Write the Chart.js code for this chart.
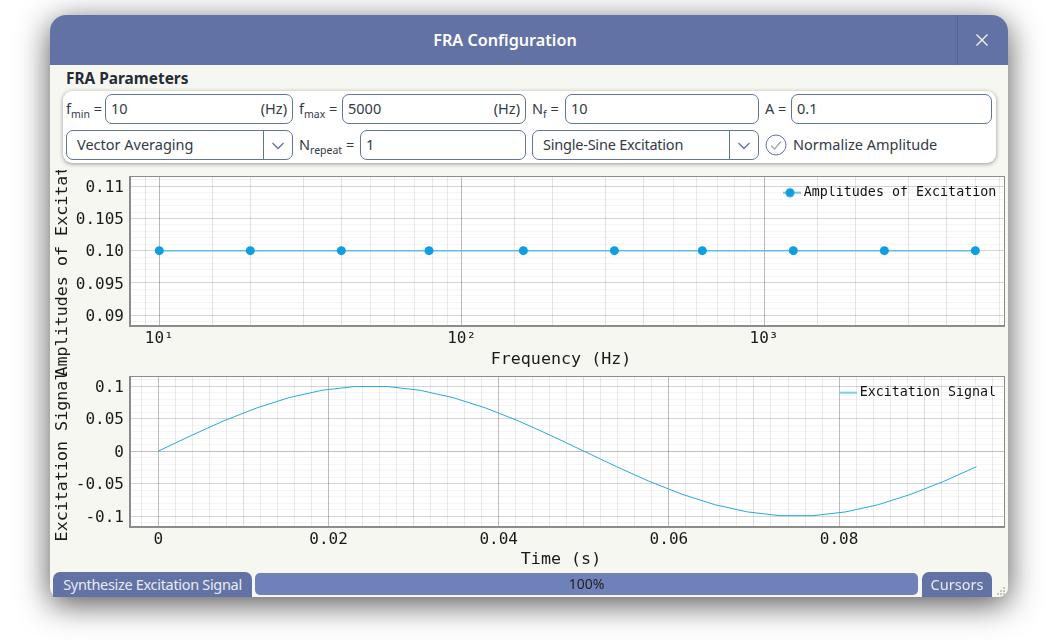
<!DOCTYPE html>
<html>
<head>
<meta charset="utf-8">
<title>FRA Configuration</title>
<script src="https://cdn.jsdelivr.net/npm/chart.js@4"></script>
<style>
  html, body { margin: 0; padding: 0; background: #fff; width: 1058px; height: 642px; overflow: hidden; }
  body { font-family: "Noto Sans", sans-serif; font-size: 14.5px; color: #333a45; position: relative; }
  .abs { position: absolute; }
  #win { left: 50px; top: 15px; width: 958px; height: 582px; background: #f6f7f1; border-radius: 16px 16px 9px 9px; box-shadow: 0 7px 32px rgba(0,0,0,.68); }
  #bar { left: 50px; top: 15px; width: 958px; height: 50px; background: #6272a4; border-radius: 16px 16px 0 0; color: #fff; font-weight: 600; font-size: 16.2px; line-height: 50px; text-align: center; }
  #bar span { position: absolute; left: 0; width: 910px; }
  #barsep { left: 957px; top: 15px; width: 1px; height: 50px; background: #54639a; }
  #panel { left: 63px; top: 91px; width: 933px; height: 72px; background: #fff; border-radius: 9px; box-shadow: 0 1px 4px rgba(0,0,0,.4); }
  .box { box-sizing: border-box; position: absolute; height: 30px; border: 1px solid #6272a4; border-radius: 7px; background: #fff; line-height: 27px; padding-left: 5px; }
  .lbl { position: absolute; line-height: 29px; white-space: nowrap; }
  .lbl sub { font-size: 10.5px; vertical-align: baseline; position: relative; top: 4px; }
  .unit { position: absolute; right: 5px; top: 0; }
  .sep { position: absolute; top: 0; bottom: 0; width: 1px; background: #6272a4; }
  .btn { position: absolute; top: 572px; height: 25px; background: #6272a4; color: #e8ebf5; border-radius: 7px 7px 0 0; line-height: 25px; text-align: center; }
  #progress { left: 255px; top: 573px; width: 663px; height: 22px; background: #7080b8; border-radius: 5px; line-height: 22px; text-align: center; color: #222; font-size: 14px; }
  canvas { position: absolute; left: 50px; }
  #grip { left: 996px; top: 586px; width: 10px; height: 10px; }
</style>
</head>
<body>
<div class="abs" id="win"></div>
<div class="abs" id="bar"><span>FRA Configuration</span></div>
<div class="abs" id="barsep"></div>
<svg class="abs" style="left:975px;top:33px" width="14" height="14"><path d="M1.5 1.5L12.5 12.5M12.5 1.5L1.5 12.5" stroke="#f2f3f8" stroke-width="1.4"/></svg>

<div class="abs" style="left:66px;top:68px;font-weight:700;font-size:15.4px;color:#262c36">FRA Parameters</div>
<div class="abs" id="panel"></div>

<div class="lbl" style="left:66px;top:94px">f<sub>min</sub> =</div>
<div class="box" style="left:105px;top:94px;width:188px">10<span class="unit">(Hz)</span></div>
<div class="lbl" style="left:299px;top:94px">f<sub>max</sub> =</div>
<div class="box" style="left:342px;top:94px;width:184px">5000<span class="unit">(Hz)</span></div>
<div class="lbl" style="left:532px;top:94px">N<sub>f</sub> =</div>
<div class="box" style="left:565px;top:94px;width:194px">10</div>
<div class="lbl" style="left:765px;top:94px">A =</div>
<div class="box" style="left:791px;top:94px;width:201px">0.1</div>

<div class="box" style="left:66px;top:130px;width:227px;padding-left:10px">Vector Averaging<div class="sep" style="left:196px"></div>
  <svg class="abs" style="left:204px;top:11px" width="14" height="8"><path d="M1.5 1L7 6.5L12.5 1" fill="none" stroke="#6272a4" stroke-width="1.3"/></svg></div>
<div class="lbl" style="left:299px;top:130px">N<sub>repeat</sub> =</div>
<div class="box" style="left:360px;top:130px;width:166px">1</div>
<div class="box" style="left:532px;top:130px;width:227px;padding-left:10px;letter-spacing:-0.22px">Single-Sine Excitation<div class="sep" style="left:196px"></div>
  <svg class="abs" style="left:204px;top:11px" width="14" height="8"><path d="M1.5 1L7 6.5L12.5 1" fill="none" stroke="#6272a4" stroke-width="1.3"/></svg></div>
<svg class="abs" style="left:765px;top:134px" width="22" height="22"><circle cx="11" cy="11" r="10" fill="#fff" stroke="#6272a4"/><path d="M6 11.5L9.5 15L16 7.5" fill="none" stroke="#9aa4c6" stroke-width="1.2"/></svg>
<div class="lbl" style="left:793px;top:130px">Normalize Amplitude</div>

<canvas id="ampChart" width="958" height="210" style="top:170px"></canvas>
<canvas id="sigChart" width="958" height="200" style="top:370px"></canvas>

<div class="btn" style="left:53px;width:199px;letter-spacing:-0.32px">Synthesize Excitation Signal</div>
<div class="abs" id="progress">100%</div>
<div class="btn" style="left:922px;width:70px">Cursors</div>
<svg class="abs" id="grip"><g fill="#c4c6c6"><rect x="7" y="1" width="2" height="2"/><rect x="4" y="4" width="2" height="2"/><rect x="7" y="4" width="2" height="2"/><rect x="1" y="7" width="2" height="2"/><rect x="4" y="7" width="2" height="2"/><rect x="7" y="7" width="2" height="2"/></g></svg>

<script>
const frequencies = [10, 20, 40, 78, 160, 320, 625, 1250, 2500, 5000];
const amplitudes = [0.1, 0.1, 0.1, 0.1, 0.1, 0.1, 0.1, 0.1, 0.1, 0.1];
const freqTickValues = [10, 100, 1000];
const freqTickLabels = ['10\u00B9', '10\u00B2', '10\u00B3'];
const ampTickValues = [0.09, 0.095, 0.1, 0.105, 0.11];
const ampTickLabels = ['0.09', '0.095', '0.10', '0.105', '0.11'];

const times = [0, 0.00385, 0.00769, 0.01154, 0.01538, 0.01923, 0.02308, 0.02692, 0.03077, 0.03462, 0.03846, 0.04231, 0.04615,
  0.05, 0.05385, 0.05769, 0.06154, 0.06538, 0.06923, 0.07308, 0.07692, 0.08077, 0.08462, 0.08846, 0.09231, 0.09615];
const signal = [0, 0.0239, 0.0465, 0.0663, 0.0823, 0.0935, 0.0993, 0.0993, 0.0935, 0.0823, 0.0663, 0.0465, 0.0239,
  0, -0.0239, -0.0465, -0.0663, -0.0823, -0.0935, -0.0993, -0.0993, -0.0935, -0.0823, -0.0663, -0.0465, -0.0239];
const timeTickValues = [0, 0.02, 0.04, 0.06, 0.08];
const timeTickLabels = ['0', '0.02', '0.04', '0.06', '0.08'];
const sigTickValues = [-0.1, -0.05, 0, 0.05, 0.1];
const sigTickLabels = ['-0.1', '-0.05', '0', '0.05', '0.1'];

const MONO = '"DejaVu Sans Mono", monospace';

function same(a, b) {
  return Math.abs(a - b) < 1e-7;
}

function labelFor(value, values, labels) {
  const i = values.findIndex(v => same(v, value));
  return i < 0 ? '' : labels[i];
}

// blank first line pushes the y label down a bit, it sits lower than the grid line in the original
function yLabelFor(value, values, labels) {
  const text = labelFor(value, values, labels);
  return text ? ['', text] : '';
}

// line + dot icon for the legend
function legendIcon(color, dot) {
  const c = document.createElement('canvas');
  c.width = 22;
  c.height = 12;
  const x = c.getContext('2d');
  x.strokeStyle = color;
  x.lineWidth = 2;
  x.beginPath();
  x.moveTo(0, 6);
  x.lineTo(22, 6);
  x.stroke();
  if (dot) {
    x.fillStyle = dot;
    x.beginPath();
    x.arc(11, 6, 4.5, 0, Math.PI * 2);
    x.fill();
  }
  return c;
}

// white plot background, frame, offset axis titles, legend moved to top right
const plotDecor = {
  id: 'plotDecor',
  afterLayout(chart) {
    const l = chart.legend;
    const o = chart.options.plugins.plotDecor;
    l.left = o.legendLeft;
    l.top = o.legendTop;
  },
  beforeDraw(chart) {
    const a = chart.chartArea, ctx = chart.ctx;
    ctx.save();
    ctx.fillStyle = '#fff';
    ctx.fillRect(a.left, a.top, a.width, a.height);
    ctx.restore();
  },
  afterDatasetsDraw(chart) {
    const a = chart.chartArea, ctx = chart.ctx;
    ctx.save();
    ctx.strokeStyle = '#8c8c8c';
    ctx.lineWidth = 1;
    ctx.strokeRect(a.left + 0.5, a.top + 0.5, a.width - 1, a.height - 1);
    ctx.lineWidth = 2;
    ctx.beginPath();
    ctx.moveTo(a.left, a.top);
    ctx.lineTo(a.left, a.bottom);
    ctx.lineTo(a.right, a.bottom);
    ctx.stroke();
    ctx.restore();
  },
  afterDraw(chart) {
    const o = chart.options.plugins.plotDecor, ctx = chart.ctx;
    ctx.save();
    ctx.fillStyle = '#1a1a1a';
    ctx.font = '16.7px ' + MONO;
    ctx.textAlign = 'center';
    ctx.textBaseline = 'middle';
    ctx.fillText(o.xTitle, o.xTitleX, o.xTitleY);
    ctx.translate(o.yTitleX, o.yTitleY);
    ctx.rotate(-Math.PI / 2);
    ctx.fillText(o.yTitle, 0, 0);
    ctx.restore();
  }
};

function noPadding(scale) {
  scale.paddingTop = scale.paddingBottom = scale.paddingLeft = scale.paddingRight = 0;
}

function fixedHeight(height) {
  return scale => { scale.height = height; noPadding(scale); };
}

function fixedWidth(width) {
  return scale => { scale.width = width; noPadding(scale); };
}

new Chart(document.getElementById('ampChart').getContext('2d'), {
  type: 'line',
  data: {
    labels: frequencies,
    datasets: [{
      label: 'Amplitudes of Excitation',
      data: frequencies.map((f, i) => ({ x: f, y: amplitudes[i] })),
      borderColor: '#62bde6',
      borderWidth: 1.5,
      backgroundColor: '#0f9fe0',
      pointBackgroundColor: '#0f9fe0',
      pointBorderWidth: 0,
      pointRadius: 4.5,
      tension: 0
    }]
  },
  options: {
    responsive: false,
    animation: false,
    events: [],
    layout: { autoPadding: false, padding: { top: 6, right: 3 } },
    scales: {
      x: {
        type: 'logarithmic',
        min: 8,
        max: 6266,
        afterFit: fixedHeight(54),
        border: { display: false },
        grid: {
          drawTicks: false,
          color: ctx => {
            const v = ctx.tick.value;
            if (v === 6266) return 'transparent';
            if (freqTickValues.includes(v)) return 'rgba(0,0,0,.27)';
            return v < 50 || (v >= 100 && v < 500) || (v >= 1000 && v < 5000) ? 'rgba(0,0,0,.11)' : 'rgba(0,0,0,.08)';
          }
        },
        ticks: {
          autoSkip: false,
          maxRotation: 0,
          padding: 3,
          color: '#1a1a1a',
          font: { family: MONO, size: 16 },
          callback: v => labelFor(v, freqTickValues, freqTickLabels)
        }
      },
      y: {
        min: 0.0883,
        max: 0.1116,
        afterFit: fixedWidth(80),
        border: { display: false },
        grid: {
          drawTicks: false,
          color: ctx => ampTickValues.some(v => same(v, ctx.tick.value)) ? 'rgba(0,0,0,.17)' : 'rgba(0,0,0,.04)'
        },
        ticks: {
          stepSize: 0.001,
          includeBounds: false,
          autoSkip: false,
          padding: 6,
          color: '#1a1a1a',
          font: { family: MONO, size: 16, lineHeight: '3px' },
          callback: v => yLabelFor(v, ampTickValues, ampTickLabels)
        }
      }
    },
    plugins: {
      tooltip: { enabled: false },
      legend: {
        position: 'chartArea',
        align: 'start',
        labels: {
          usePointStyle: true,
          pointStyle: legendIcon('#6cc6ec', '#0f9fe0'),
          pointStyleWidth: 14,
          padding: 0,
          color: '#111',
          font: { family: MONO, size: 13.33 }
        }
      },
      plotDecor: {
        legendLeft: 733,
        legendTop: 16,
        xTitle: 'Frequency (Hz)',
        xTitleX: 511,
        xTitleY: 190,
        yTitle: 'Amplitudes of Excitation',
        yTitleX: 13,
        yTitleY: 86
      }
    }
  },
  plugins: [plotDecor]
});

new Chart(document.getElementById('sigChart').getContext('2d'), {
  type: 'line',
  data: {
    datasets: [{
      label: 'Excitation Signal',
      data: times.map((t, i) => ({ x: t, y: signal[i] })),
      borderColor: '#2aa8e0',
      borderWidth: 1,
      pointRadius: 0,
      tension: 0
    }]
  },
  options: {
    responsive: false,
    animation: false,
    events: [],
    layout: { autoPadding: false, padding: { top: 6, right: 3 } },
    scales: {
      x: {
        type: 'linear',
        min: -0.00333,
        max: 0.0995,
        afterFit: fixedHeight(43),
        border: { display: false },
        grid: {
          drawTicks: false,
          color: ctx => {
            const v = ctx.tick.value;
            if (timeTickValues.some(t => same(t, v))) return 'rgba(0,0,0,.26)';
            return same(Math.round(v * 100) / 100, v) ? 'rgba(0,0,0,.13)' : 'rgba(0,0,0,.08)';
          }
        },
        ticks: {
          stepSize: 0.002,
          includeBounds: false,
          autoSkip: false,
          maxRotation: 0,
          padding: 3,
          color: '#1a1a1a',
          font: { family: MONO, size: 16 },
          callback: v => labelFor(v, timeTickValues, timeTickLabels)
        }
      },
      y: {
        min: -0.1167,
        max: 0.1155,
        afterFit: fixedWidth(80),
        border: { display: false },
        grid: {
          drawTicks: false,
          color: ctx => {
            const v = ctx.tick.value;
            if (same(v, 0)) return 'rgba(0,0,0,.25)';
            return sigTickValues.some(t => same(t, v)) ? 'rgba(0,0,0,.17)' : 'rgba(0,0,0,.04)';
          }
        },
        ticks: {
          stepSize: 0.01,
          includeBounds: false,
          autoSkip: false,
          padding: 6,
          color: '#1a1a1a',
          font: { family: MONO, size: 16, lineHeight: '3px' },
          callback: v => yLabelFor(v, sigTickValues, sigTickLabels)
        }
      }
    },
    plugins: {
      tooltip: { enabled: false },
      legend: {
        position: 'chartArea',
        align: 'start',
        labels: {
          usePointStyle: true,
          pointStyle: legendIcon('#7fcdee'),
          pointStyleWidth: 14,
          padding: 0,
          color: '#111',
          font: { family: MONO, size: 13.33 }
        }
      },
      plotDecor: {
        legendLeft: 789,
        legendTop: 16,
        xTitle: 'Time (s)',
        xTitleX: 511,
        xTitleY: 190,
        yTitle: 'Excitation Signal',
        yTitleX: 13,
        yTitleY: 86
      }
    }
  },
  plugins: [plotDecor]
});
</script>
</body>
</html>
